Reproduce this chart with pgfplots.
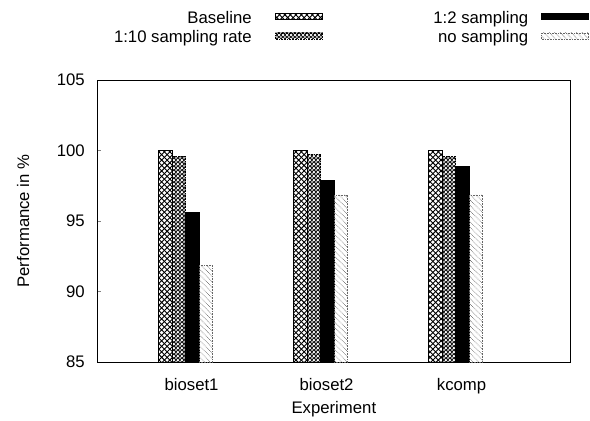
\documentclass[border=0pt]{standalone}
\usepackage{fontspec}
\setmainfont{Liberation Sans}
\usepackage{pgfplots}
\pgfplotsset{compat=1.18}
\usetikzlibrary{patterns}
\pgfdeclarepatternformonly{diamonds}{\pgfqpoint{-0.5pt}{-0.5pt}}{\pgfqpoint{6pt}{6pt}}{\pgfqpoint{5.5pt}{5.5pt}}{%
  \pgfsetlinewidth{0.9pt}%
  \pgfpathmoveto{\pgfqpoint{0pt}{0pt}}\pgfpathlineto{\pgfqpoint{5.5pt}{5.5pt}}%
  \pgfpathmoveto{\pgfqpoint{0pt}{5.5pt}}\pgfpathlineto{\pgfqpoint{5.5pt}{0pt}}%
  \pgfusepath{stroke}}
\pgfdeclarepatternformonly{rings}{\pgfqpoint{0pt}{0pt}}{\pgfqpoint{4.4pt}{4.4pt}}{\pgfqpoint{4.4pt}{4.4pt}}{%
  \pgfsetlinewidth{0.7pt}%
  \pgfpathmoveto{\pgfqpoint{0pt}{2.2pt}}\pgfpathlineto{\pgfqpoint{2.2pt}{4.4pt}}%
  \pgfpathlineto{\pgfqpoint{4.4pt}{2.2pt}}\pgfpathlineto{\pgfqpoint{2.2pt}{0pt}}\pgfpathclose
  \pgfusepath{stroke}%
  \pgfpathcircle{\pgfqpoint{2.2pt}{2.2pt}}{0.7pt}%
  \pgfusepath{fill}}
\pgfdeclarepatternformonly{nwl}{\pgfqpoint{-0.5pt}{-0.5pt}}{\pgfqpoint{6pt}{6pt}}{\pgfqpoint{5.5pt}{5.5pt}}{%
  \pgfsetlinewidth{0.6pt}%
  \pgfpathmoveto{\pgfqpoint{0pt}{5.5pt}}\pgfpathlineto{\pgfqpoint{5.5pt}{0pt}}%
  \pgfusepath{stroke}}
\begin{document}
\begin{tikzpicture}
\begin{axis}[
  at={(97bp,57bp)}, anchor=south west,
  scale only axis, width=473.7bp, height=282bp,
  font=\fontsize{16.8}{19}\selectfont,
  /pgf/number format/assume math mode=true,
  axis line style={line width=1bp},
  xmin=-0.656, xmax=2.853, ymin=85, ymax=105,
  ytick={85,90,95,100,105},
  ytick pos=left, tick align=inside, major tick length=4bp,
  ytick style={line width=0.6bp},
  xtick={0,1,2}, xticklabels={bioset1,bioset2,kcomp},
  xtick style={draw=none},
  xticklabel style={anchor=base, yshift=-24.7bp, xshift=6bp},
  yticklabel style={xshift=-8.7bp},
  xlabel={Experiment},
  xlabel style={at={(axis description cs:0.5,-0.1826)}, anchor=base},
  ylabel={Performance in \%},
  ylabel style={at={(axis description cs:-0.156,0.5)}, anchor=center},
  ybar, bar width=0.1, bar shift=0pt,
  legend columns=2,
  legend plot pos=right,
  legend cell align=right,
  legend style={at={(axis description cs:1.038,1.2436)}, anchor=north east,
    draw=none, fill=none, inner sep=0pt, outer sep=0pt,
    column sep=0pt, row sep=4bp,
    nodes={inner sep=0pt, text height=12bp, text depth=3.5bp},
    font=\fontsize{16.8}{19}\selectfont},
  legend image code/.code={%
    \pgfpathrectangle{\pgfpoint{0bp}{-3bp}}{\pgfpoint{60.4bp}{9bp}}%
    \pgfusepath{use as bounding box}%
    \draw[#1] (13.4bp,-0.25bp) rectangle (60.4bp,5.75bp);},
]
\addplot[draw=black, line width=0.8bp, pattern=diamonds, pattern color=black]
  coordinates {(-0.15,100) (0.85,100) (1.85,100)};
\addlegendentry{Baseline\hspace*{10.6bp}}
\addplot[draw=black, fill=black, line width=0.6bp]
  coordinates {(0.05,95.6) (1.05,97.9) (2.05,98.85)};
\addlegendentry{\makebox[205.6bp][r]{1:2 sampling}}
\addplot[draw=black, densely dotted, line width=0.6bp, pattern=rings, pattern color=black]
  coordinates {(-0.05,99.6) (0.95,99.7) (1.95,99.6)};
\addlegendentry{1:10 sampling rate\hspace*{10.6bp}}
\addplot[draw=black!60, densely dotted, line width=0.6bp, pattern=nwl, pattern color=black!65]
  coordinates {(0.15,91.85) (1.15,96.85) (2.15,96.85)};
\addlegendentry{\makebox[205.6bp][r]{no sampling}}
\end{axis}
\path[use as bounding box] (0,0) rectangle (590bp,419bp);
\end{tikzpicture}
\end{document}
